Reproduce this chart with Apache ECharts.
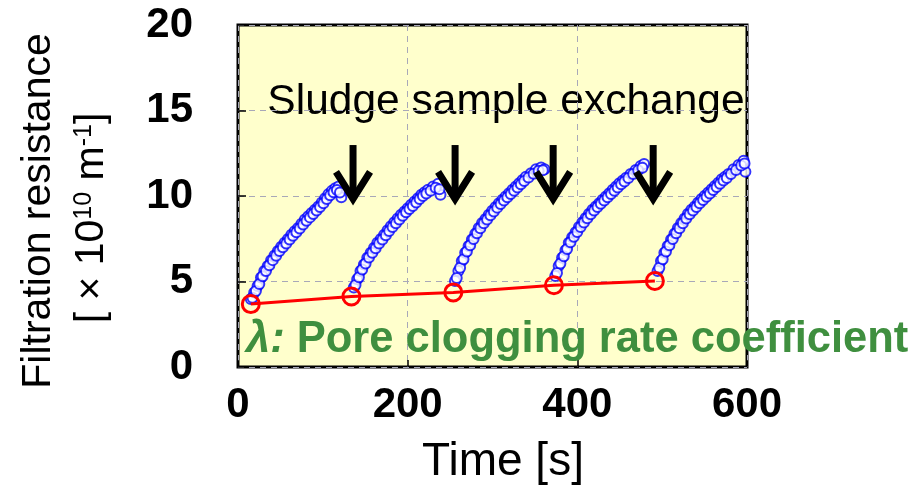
<!DOCTYPE html>
<html>
<head>
<meta charset="utf-8">
<title>Filtration resistance</title>
<script src="https://cdn.jsdelivr.net/npm/echarts/dist/echarts.min.js"></script>
<style>
  html, body { margin: 0; padding: 0; background: #fff; }
  #myChart { width: 910px; height: 489px; }
</style>
</head>
<body>
<div id="myChart"></div>
<script>
// time [s], filtration resistance [x10^10 m^-1]; two readings per run (upper / lower edge of the band)
let run1 = [[15.1,3.97],[19.1,4.36],[23.1,4.74],[27.1,5.23],[31.0,5.61],[35.0,5.90],[39.0,6.25],[43.0,6.52],[47.0,6.78],[50.9,7.03],[54.9,7.26],[58.9,7.49],[62.9,7.74],[66.8,7.94],[70.8,8.13],[74.8,8.38],[78.8,8.62],[82.8,8.81],[86.7,9.00],[90.7,9.20],[94.7,9.39],[98.7,9.62],[102.7,9.87],[106.6,10.11],[110.6,10.30],[114.6,10.45],[118.6,10.55],[121.8,9.93]];
let run1b = [[17.1,4.05],[21.1,4.45],[25.1,4.85],[29.0,5.30],[33.0,5.62],[37.0,5.95],[41.0,6.25],[45.0,6.50],[49.0,6.78],[52.9,7.00],[56.9,7.22],[60.9,7.45],[64.8,7.68],[68.8,7.88],[72.8,8.10],[76.8,8.33],[80.8,8.55],[84.8,8.75],[88.7,8.95],[92.7,9.15],[96.7,9.35],[100.7,9.58],[104.7,9.82],[108.6,10.05],[112.6,10.22],[116.6,10.35],[120.2,10.20]];
let run2 = [[136.5,4.65],[140.5,5.13],[144.4,5.61],[148.4,6.00],[152.4,6.39],[156.4,6.68],[160.4,6.97],[164.3,7.26],[168.3,7.49],[172.3,7.74],[176.3,8.00],[180.2,8.23],[184.2,8.46],[188.2,8.69],[192.2,8.91],[196.2,9.10],[200.1,9.29],[204.1,9.49],[208.1,9.68],[212.1,9.87],[216.1,10.07],[220.0,10.22],[224.0,10.36],[230.0,10.55],[236.0,10.71],[238.7,10.07]];
let run2b = [[138.5,4.80],[142.5,5.25],[146.4,5.70],[150.4,6.05],[154.4,6.40],[158.4,6.68],[162.3,6.95],[166.3,7.22],[170.3,7.45],[174.3,7.70],[178.2,7.95],[182.2,8.18],[186.2,8.40],[190.2,8.63],[194.2,8.85],[198.1,9.05],[202.1,9.24],[206.1,9.42],[210.1,9.62],[214.1,9.82],[218.0,10.00],[222.0,10.15],[227.0,10.30],[233.0,10.48],[237.5,10.40]];
let run3 = [[255.8,5.03],[259.8,5.61],[263.8,6.20],[267.8,6.68],[271.8,7.07],[275.7,7.45],[279.7,7.80],[283.7,8.13],[287.7,8.42],[291.7,8.65],[295.6,8.91],[299.6,9.14],[303.6,9.35],[307.6,9.58],[311.6,9.78],[315.5,9.97],[319.5,10.16],[323.5,10.36],[327.5,10.55],[331.5,10.74],[335.4,10.94],[339.4,11.13],[345.4,11.33],[351.3,11.56],[357.3,11.67],[361.3,11.56]];
let run3b = [[257.8,5.20],[261.8,5.80],[265.8,6.30],[269.8,6.75],[273.7,7.12],[277.7,7.48],[281.7,7.82],[285.7,8.12],[289.7,8.40],[293.6,8.63],[297.6,8.88],[301.6,9.10],[305.6,9.32],[309.6,9.53],[313.5,9.73],[317.5,9.92],[321.5,10.12],[325.5,10.30],[329.5,10.50],[333.4,10.68],[337.4,10.88],[342.4,11.08],[348.4,11.30],[354.3,11.48],[359.3,11.50]];
let run4 = [[374.0,5.32],[378.0,5.90],[382.0,6.39],[386.0,6.83],[389.9,7.26],[393.9,7.59],[397.9,7.88],[401.9,8.19],[405.9,8.46],[409.8,8.71],[413.8,8.96],[417.8,9.20],[421.8,9.39],[425.8,9.58],[429.7,9.78],[433.7,9.97],[437.7,10.16],[441.7,10.36],[445.7,10.55],[449.6,10.74],[453.6,10.90],[457.6,11.07],[462.8,11.29],[468.8,11.52],[474.7,11.75],[478.7,11.87]];
let run4b = [[376.0,5.50],[380.0,6.05],[384.0,6.48],[387.9,6.90],[391.9,7.30],[395.9,7.62],[399.9,7.90],[403.9,8.18],[407.8,8.45],[411.8,8.70],[415.8,8.93],[419.8,9.15],[423.8,9.35],[427.7,9.55],[431.7,9.74],[435.7,9.93],[439.7,10.12],[443.7,10.30],[447.6,10.50],[451.6,10.68],[455.6,10.85],[460.2,11.05],[465.8,11.28],[471.7,11.50],[476.7,11.65]];
let run5 = [[494.6,5.61],[498.6,6.20],[502.6,6.68],[506.5,7.07],[510.5,7.45],[514.5,7.80],[518.5,8.13],[522.5,8.42],[526.4,8.69],[530.4,8.96],[534.4,9.20],[538.4,9.39],[542.4,9.62],[546.3,9.82],[550.3,10.01],[554.3,10.20],[558.3,10.40],[562.2,10.59],[566.2,10.78],[570.2,10.98],[574.2,11.13],[578.2,11.29],[584.1,11.56],[590.1,11.81],[596.1,12.06],[598.1,11.42]];
let run5b = [[496.6,5.80],[500.6,6.30],[504.5,6.75],[508.5,7.12],[512.5,7.48],[516.5,7.82],[520.5,8.12],[524.4,8.40],[528.4,8.68],[532.4,8.93],[536.4,9.15],[540.4,9.35],[544.3,9.57],[548.3,9.77],[552.3,9.96],[556.3,10.15],[560.2,10.35],[564.2,10.53],[568.2,10.72],[572.2,10.90],[576.2,11.05],[581.1,11.28],[587.1,11.52],[593.1,11.78],[597.1,11.90]];
// initial resistance of each sample (lambda line)
let startTimes = [15.1, 133.7, 253.8, 372.4, 491.4];
let startValues = [3.68, 4.12, 4.36, 4.78, 5.03];
// sample exchange arrows: time, top, tip
let exchangeTimes = [135.6, 255.9, 371.5, 489.4];
let arrowTop = 12.98, arrowTip = 9.65;

let FONT = "'Liberation Sans', Arial, Helvetica, sans-serif";

let myChart = echarts.init(document.getElementById("myChart"));
let blueStyle = {
  type: "scatter",
  symbol: "circle",
  symbolSize: 10,
  itemStyle: { color: "#ffffff", borderColor: "#0000ff", borderWidth: 2 },
  silent: true,
  z: 3
};
let runs = [run1.concat(run1b), run2.concat(run2b), run3.concat(run3b), run4.concat(run4b), run5.concat(run5b)];
let option = {
  animation: false,
  grid: {
    left: 238, top: 25, right: 163, bottom: 122,
    show: true,
    backgroundColor: "#ffffcc",
    borderColor: "#000",
    borderWidth: 3
  },
  xAxis: {
    type: "value",
    min: 0, max: 600, interval: 200,
    axisLine: { show: false },
    axisTick: { show: true, inside: true, length: 7, lineStyle: { color: "#000", width: 1.5 } },
    axisLabel: { margin: 17, color: "#000", fontSize: 42, fontWeight: "bold", fontFamily: FONT },
    splitLine: { show: true, lineStyle: { color: "#a8a8b8", type: [6, 5], width: 1 } }
  },
  yAxis: {
    type: "value",
    min: 0, max: 20, interval: 5,
    axisLine: { show: false },
    axisTick: { show: true, inside: true, length: 8, lineStyle: { color: "#000", width: 1.5 } },
    axisLabel: { margin: 45, color: "#000", fontSize: 42, fontWeight: "bold", fontFamily: FONT },
    splitLine: { show: true, lineStyle: { color: "#a8a8b8", type: [6, 5], width: 1 } }
  },
  graphic: [
    {
      type: "text", x: 39, y: 211, rotation: Math.PI / 2,
      style: { text: "Filtration resistance", font: "41px " + FONT, fill: "#000", align: "center", verticalAlign: "middle" }
    },
    {
      type: "text", x: 92, y: 218, rotation: Math.PI / 2,
      style: {
        text: "{n|[ × 10}{s|10}{n| m}{s|-1}{n|]}",
        align: "center", verticalAlign: "middle",
        rich: {
          n: { fontSize: 41, fontFamily: FONT, fill: "#000", lineHeight: 41 },
          s: { fontSize: 25, fontFamily: FONT, fill: "#000", verticalAlign: "top", lineHeight: 41 }
        }
      }
    },
    {
      type: "text", x: 503, y: 462,
      style: { text: "Time [s]", font: "46px " + FONT, fill: "#000", align: "center", verticalAlign: "middle" }
    },
    {
      type: "text", x: 506, y: 102,
      style: { text: "Sludge sample exchange", font: "42.5px " + FONT, fill: "#000", align: "center", verticalAlign: "middle" }
    },
    {
      type: "text", x: 246, y: 340, z: 10,
      style: {
        text: "{l|λ:}{r| Pore clogging rate coefficient}",
        align: "left", verticalAlign: "middle",
        rich: {
          l: { fontSize: 43.5, fontFamily: FONT, fontWeight: "bold", fontStyle: "italic", fill: "#3f8f3f" },
          r: { fontSize: 43.5, fontFamily: FONT, fontWeight: "bold", fill: "#3f8f3f" }
        }
      }
    }
  ],
  series: runs.map((d, i) => Object.assign({ name: "run" + (i + 1), data: d }, blueStyle)).concat([
    {
      name: "lambda",
      type: "line",
      data: startTimes.map((t, i) => [t, startValues[i]]),
      symbol: "circle",
      symbolSize: 17,
      lineStyle: { color: "#ff0000", width: 3 },
      itemStyle: { color: "rgba(255,255,255,0)", borderColor: "#ff0000", borderWidth: 3 },
      z: 4
    },
    {
      name: "exchange",
      type: "custom",
      clip: false,
      z: 5,
      data: exchangeTimes.map(t => [t, arrowTop, arrowTip]),
      encode: { x: 0, y: [1, 2] },
      renderItem: function (params, api) {
        let p1 = api.coord([api.value(0), api.value(1)]);
        let p2 = api.coord([api.value(0), api.value(2)]);
        return {
          type: "group",
          children: [
            { type: "line", shape: { x1: p1[0], y1: p1[1], x2: p2[0], y2: p2[1] - 5 }, style: { stroke: "#000", lineWidth: 7 } },
            { type: "polyline", shape: { points: [[p2[0] - 17, p2[1] - 30], [p2[0], p2[1] - 3], [p2[0] + 17, p2[1] - 30]] },
              style: { stroke: "#000", lineWidth: 7, fill: null, lineJoin: "miter" } }
          ]
        };
      }
    }
  ])
};
myChart.setOption(option);
</script>
</body>
</html>
